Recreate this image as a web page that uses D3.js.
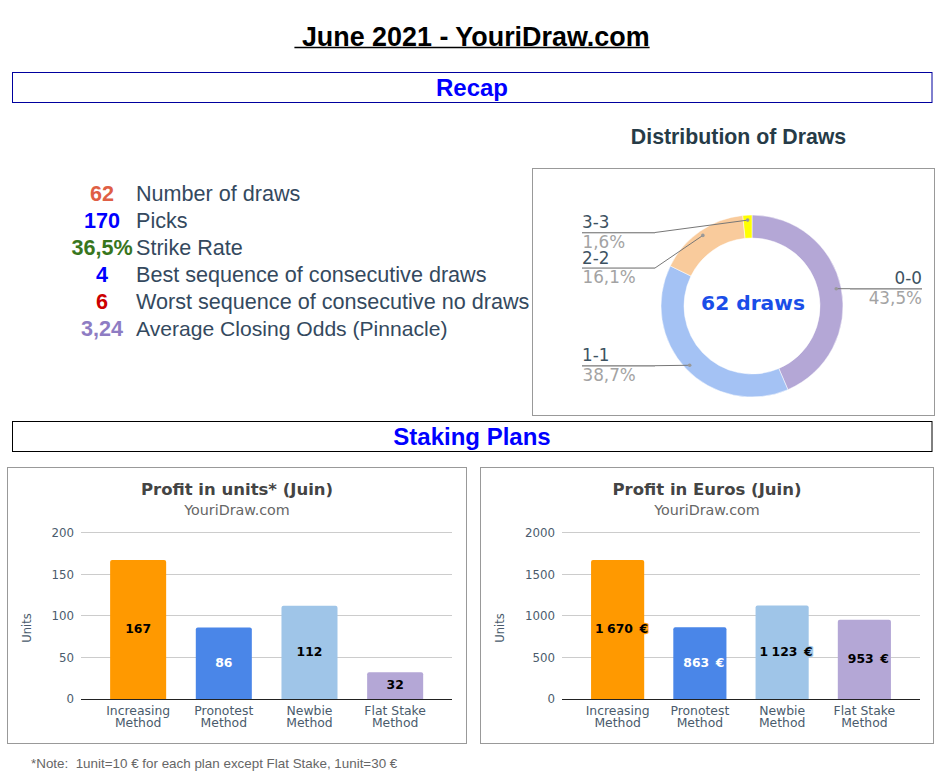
<!DOCTYPE html>
<html><head><meta charset="utf-8">
<script src="https://cdn.jsdelivr.net/npm/d3@7"></script>
<style>html,body{margin:0;padding:0;background:#fff}svg{display:block}</style></head>
<body><svg id="c" width="942" height="774"></svg>
<script>
const pageTitle = " June 2021 - YouriDraw.com";
const sectionTitles = ["Recap", "Staking Plans"];
const statValues = ["62", "170", "36,5%", "4", "6", "3,24"];
const statColors = ["#df5f45", "#0000ff", "#38761d", "#0000ff", "#cc0000", "#8e7cc3"];
const statLabels = ["Number of draws", "Picks", "Strike Rate", "Best sequence of consecutive draws", "Worst sequence of consecutive no draws", "Average Closing Odds (Pinnacle)"];
const donutCategories = ["0-0", "1-1", "2-2", "3-3"];
const donutValues = [27, 24, 10, 1];
const donutColors = ["#b4a7d6", "#a4c2f4", "#f9cb9c", "#ffff00"];
const planCategories = [["Increasing", "Method"], ["Pronotest", "Method"], ["Newbie", "Method"], ["Flat Stake", "Method"]];
const planColors = ["#ff9900", "#4a86e8", "#9fc5e8", "#b4a7d6"];
const planLabelColors = ["#000", "#fff", "#000", "#000"];
const unitsValues = [167, 86, 112, 32];
const unitsLabels = ["167", "86", "112", "32"];
const unitsTicks = [0, 50, 100, 150, 200];
const euroValues = [1670, 863, 1123, 953];
const euroLabels = ["1 670  €", "863  €", "1 123  €", "953  €"];
const euroTicks = [0, 500, 1000, 1500, 2000];

const LIB = "'Liberation Sans',Arial,sans-serif", DJ = "'DejaVu Sans',Verdana,sans-serif";
const svg = d3.select("#c");

function txt(g, x, y, s, o) {
  const t = g.append("text").attr("x", x).attr("y", y).text(s)
    .attr("text-anchor", o.anchor || "middle")
    .attr("font-family", o.family || LIB).attr("font-size", o.size)
    .attr("font-weight", o.weight || "normal").attr("fill", o.fill || "#000")
    .attr("dominant-baseline", "central").style("white-space", "pre");
  return t;
}

// Header
const titleText = txt(svg, 472, 37, pageTitle, {size: 26.9, weight: "bold"});
const titleLen = titleText.node().getComputedTextLength();
svg.append("line").attr("x1", 472 - titleLen / 2).attr("x2", 472 + titleLen / 2)
  .attr("y1", 47.5).attr("y2", 47.5).attr("stroke", "#000").attr("stroke-width", 1.4);
[[12, 72, 919.5, 30, "#00009e"], [12, 421, 919.5, 30, "#000"]].forEach((b, i) => {
  svg.append("rect").attr("x", b[0] + .5).attr("y", b[1] + .5).attr("width", b[2]).attr("height", b[3])
    .attr("fill", "none").attr("stroke", b[4]);
  txt(svg, 472, b[1] + 15.5, sectionTitles[i], {size: 24, weight: "bold", fill: "#0000ff"});
});

// Stats list
const statY = d3.scalePoint().domain(d3.range(statValues.length)).range([193.3, 328.3]);
statValues.forEach((v, i) => {
  txt(svg, 102, statY(i), v, {size: 21.6, weight: "bold", fill: statColors[i]});
  txt(svg, 136, statY(i), statLabels[i], {size: i === 5 ? 21.1 : 21.6, anchor: "start", fill: "#34495e"});
});

// Donut
txt(svg, 738.5, 136.5, "Distribution of Draws", {size: 21.3, weight: "bold", fill: "#263b47"});
svg.append("rect").attr("x", 532.5).attr("y", 168.5).attr("width", 402).attr("height", 247)
  .attr("fill", "#fff").attr("stroke", "#999");
const cx = 752, cy = 306;
const pie = d3.pie().sort(null).value(d => d)(donutValues);
const arc = d3.arc().innerRadius(68).outerRadius(91);
const dot = d3.arc().innerRadius(86).outerRadius(86);
const dg = svg.append("g").attr("transform", `translate(${cx},${cy})`);
dg.selectAll("path").data(pie).join("path").attr("d", arc)
  .attr("fill", (d, i) => donutColors[i]).attr("stroke", "#fff").attr("stroke-width", .5);
txt(dg, 1, -3, "62 draws", {family: DJ, size: 20.2, weight: "bold", fill: "#1a4ee8"});
const leaderEnds = [{y: 288.7, elbow: 850, end: 922}, {y: 365.7, elbow: 655, end: 582}, {y: 268, elbow: 655, end: 582}, {y: 232.5, elbow: 655, end: 582}];
pie.forEach((d, i) => {
  const c = dot.centroid(d), L = leaderEnds[i], px = cx + c[0], py = cy + c[1];
  const right = L.end > cx;
  svg.append("polyline").attr("points", `${px},${py} ${L.elbow},${L.y} ${L.end},${L.y}`)
    .attr("fill", "none").attr("stroke", "#777").attr("stroke-width", 1);
  svg.append("line").attr("x1", L.elbow).attr("x2", L.end).attr("y1", L.y + .5).attr("y2", L.y + .5).attr("stroke", "#aaa");
  svg.append("circle").attr("cx", px).attr("cy", py).attr("r", 1.8).attr("fill", "#999");
  const o = {family: DJ, size: 16.8, anchor: right ? "end" : "start"};
  txt(svg, L.end, L.y - 10.5, donutCategories[i], {...o, fill: "#3d5261"});
  txt(svg, L.end + (right ? 0 : .5), L.y + 9, d3.format(".1f")(donutValues[i] / d3.sum(donutValues) * 100).replace(".", ",") + "%", {...o, fill: "#a3a3a3"});
});

// Bar charts
function barChart(o) {
  const g = svg.append("g");
  g.append("rect").attr("x", o.px).attr("y", 467.5).attr("width", o.pw).attr("height", 276)
    .attr("fill", "#fff").attr("stroke", "#999");
  txt(g, o.tx, 489, o.title, {family: DJ, size: 16.5, weight: "bold", fill: "#444"});
  txt(g, o.tx, 510, "YouriDraw.com", {family: DJ, size: 14.3, fill: "#666"});
  const y = d3.scaleLinear().domain([0, o.ticks[o.ticks.length - 1]]).range([699, 532.5]);
  const x = d3.scaleBand().domain(d3.range(o.values.length)).range(o.band).paddingInner(o.pad).paddingOuter(o.pad / 2);
  const ax = g.append("g").attr("transform", `translate(${o.gx0},0)`)
    .call(d3.axisLeft(y).tickValues(o.ticks).tickSize(0).tickPadding(7).tickFormat(d3.format("d")));
  ax.select(".domain").remove();
  ax.selectAll("text").attr("font-family", DJ).attr("font-size", 11.8).attr("fill", "#4a5b6c")
    .attr("dy", d => d === 0 ? "0.32em" : "0.4em");
  ax.selectAll(".tick line").attr("x2", o.gx1 - o.gx0).attr("stroke", d => d === 0 ? "#222" : "#ccc");
  ax.selectAll(".tick").attr("transform", d => `translate(0,${Math.floor(y(d)) + .5})`);
  const bar = (d, i) => {
    const x0 = x(i), w = x.bandwidth(), top = y(d), r = 2;
    return `M${x0},699V${top + r}Q${x0},${top} ${x0 + r},${top}H${x0 + w - r}Q${x0 + w},${top} ${x0 + w},${top + r}V699Z`;
  };
  g.selectAll("path.bar").data(o.values).join("path").attr("class", "bar")
    .attr("d", bar).attr("fill", (d, i) => planColors[i]);
  o.values.forEach((d, i) => {
    txt(g, x(i) + x.bandwidth() / 2 + o.lx, (y(d) + 699) / 2 - .7, o.labels[i], {family: DJ, size: 12.4, weight: "bold", fill: planLabelColors[i]})
      .attr("stroke", planColors[i]).attr("stroke-width", 2.5).style("paint-order", "stroke").style("word-spacing", "-1px");
    const t = g.append("text").attr("text-anchor", "middle").attr("font-family", DJ).attr("font-size", 12.4).attr("fill", "#4a5b6c");
    planCategories[i].forEach((s, k) => t.append("tspan").attr("x", x(i) + x.bandwidth() / 2).attr("y", 714.7 + k * 12).text(s));
  });
  txt(g, 0, 0, "Units", {family: DJ, size: 11.5, fill: "#4a5b6c"}).attr("transform", `translate(${o.ux},628) rotate(-90)`);
}
barChart({px: 7.5, pw: 459, tx: 237, title: "Profit in units* (Juin)", values: unitsValues, labels: unitsLabels, ticks: unitsTicks,
  gx0: 81, gx1: 452, band: [95.3, 438], pad: .346, lx: 0, ux: 27});
barChart({px: 480.5, pw: 453, tx: 707, title: "Profit in Euros (Juin)", values: euroValues, labels: euroLabels, ticks: euroTicks,
  gx0: 562, gx1: 920, band: [576.5, 905.5], pad: .354, lx: 4, ux: 500});

txt(svg, 31, 763, "*Note:  1unit=10 € for each plan except Flat Stake, 1unit=30 €", {size: 13.4, anchor: "start", fill: "#666"});
</script></body></html>
